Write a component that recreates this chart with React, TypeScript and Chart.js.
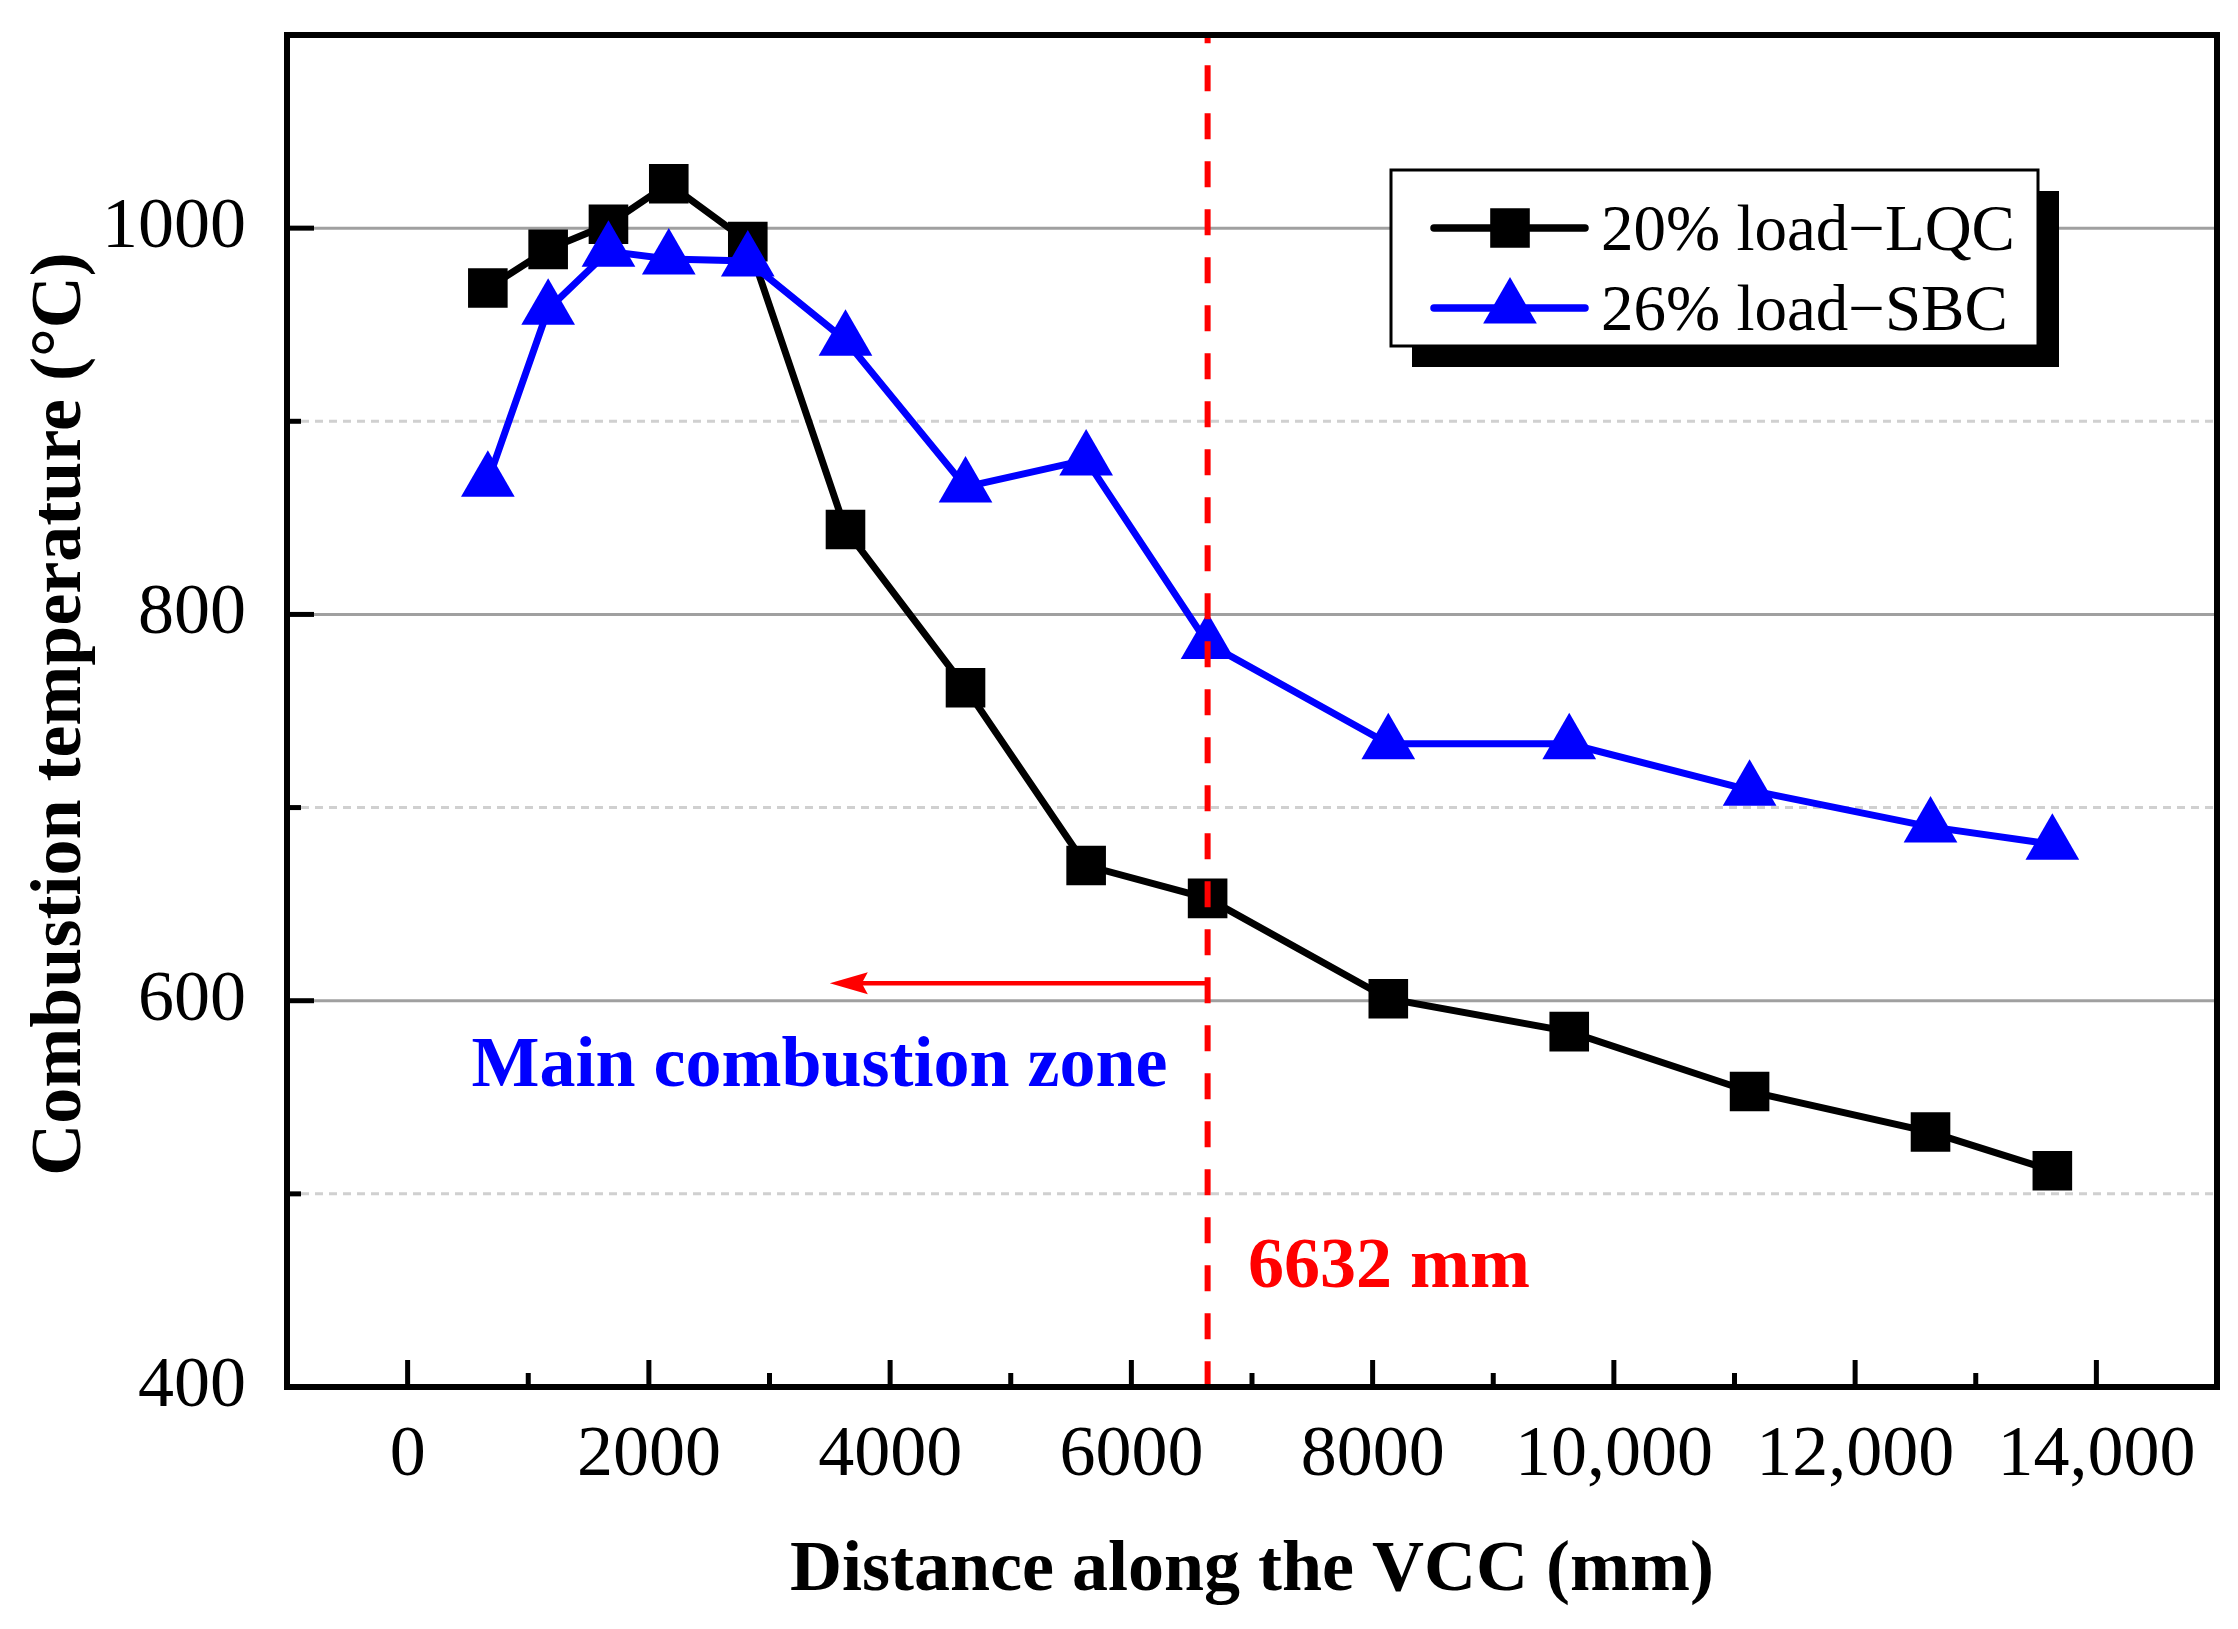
import React, { useEffect, useRef } from 'react';
import { Chart, registerables } from 'chart.js';

Chart.register(...registerables);

// distance along the VCC (mm) of each measuring point
const distance = [665, 1165, 1665, 2165, 2820, 3630, 4625, 5625, 6632, 8130, 9630, 11125, 12625, 13635];
// combustion temperature (°C)
const lqc20 = [969, 989, 1002, 1023, 993, 844, 762, 670, 653, 601, 584, 553, 532, 512];
const sbc26 = [869, 958, 988, 984, 983, 942, 866, 880, 785, 733, 733, 709, 690, 681];

const seriesLabels = ['20% load\u2212LQC', '26% load\u2212SBC'];

const xTicks = [0, 2000, 4000, 6000, 8000, 10000, 12000, 14000];
const xMinorTicks = [1000, 3000, 5000, 7000, 9000, 11000, 13000];
const yTicks = [400, 600, 800, 1000];
const yMinorTicks = [500, 700, 900];
const yGridMajor = [600, 800, 1000];

// main combustion zone boundary and its annotations
const boundaryX = 6632;
const arrowY = 609;
const arrowTipX = 3500;
const zoneText = 'Main combustion zone';
const zoneTextPos = [530, 556];
const boundaryText = '6632 mm';
const boundaryTextPos = [6967, 452];

const SERIF = '"Liberation Serif", "Times New Roman", serif';

const decorPlugin = {
  id: 'decor',
  beforeDatasetsDraw(chart: any) {
    const { ctx, chartArea: a, scales } = chart;
    const y = scales.y;
    ctx.save();
    ctx.lineWidth = 3;
    ctx.strokeStyle = '#d0d0d0';
    ctx.setLineDash([8, 6]);
    yMinorTicks.forEach((v) => {
      const py = y.getPixelForValue(v);
      ctx.beginPath();
      ctx.moveTo(a.left, py);
      ctx.lineTo(a.right, py);
      ctx.stroke();
    });
    ctx.setLineDash([]);
    ctx.strokeStyle = '#a0a0a0';
    yGridMajor.forEach((v) => {
      const py = y.getPixelForValue(v);
      ctx.beginPath();
      ctx.moveTo(a.left, py);
      ctx.lineTo(a.right, py);
      ctx.stroke();
    });
    ctx.restore();
  },
  afterDatasetsDraw(chart: any) {
    const { ctx, chartArea: a, scales } = chart;
    const x = scales.x;
    const y = scales.y;
    ctx.save();

    // red dashed boundary line
    const bx = x.getPixelForValue(boundaryX);
    const ay = y.getPixelForValue(arrowY);
    const period = 48;
    const d = (ay - 6 - a.top) % period;
    ctx.strokeStyle = '#ff0000';
    ctx.lineWidth = 6;
    ctx.setLineDash([26, 22]);
    ctx.lineDashOffset = (period - d) % period;
    ctx.beginPath();
    ctx.moveTo(bx, a.top);
    ctx.lineTo(bx, a.bottom);
    ctx.stroke();
    ctx.setLineDash([]);
    ctx.lineDashOffset = 0;

    // arrow to the left
    const tx = x.getPixelForValue(arrowTipX);
    ctx.lineWidth = 4.5;
    ctx.beginPath();
    ctx.moveTo(bx, ay);
    ctx.lineTo(tx + 30, ay);
    ctx.stroke();
    ctx.fillStyle = '#ff0000';
    ctx.beginPath();
    ctx.moveTo(tx, ay);
    ctx.lineTo(tx + 38, ay - 11);
    ctx.lineTo(tx + 32, ay);
    ctx.lineTo(tx + 38, ay + 11);
    ctx.closePath();
    ctx.fill();

    // annotation texts
    ctx.font = `bold 72px ${SERIF}`;
    ctx.textAlign = 'left';
    ctx.textBaseline = 'alphabetic';
    ctx.fillStyle = '#0000ff';
    ctx.fillText(zoneText, x.getPixelForValue(zoneTextPos[0]), y.getPixelForValue(zoneTextPos[1]));
    ctx.fillStyle = '#ff0000';
    ctx.fillText(boundaryText, x.getPixelForValue(boundaryTextPos[0]), y.getPixelForValue(boundaryTextPos[1]));

    // frame
    ctx.strokeStyle = '#000';
    ctx.lineWidth = 6;
    ctx.strokeRect(a.left, a.top, a.right - a.left, a.bottom - a.top);

    // ticks (inside)
    ctx.lineWidth = 5;
    xTicks.forEach((v) => {
      const px = x.getPixelForValue(v);
      ctx.beginPath();
      ctx.moveTo(px, a.bottom);
      ctx.lineTo(px, a.bottom - 27);
      ctx.stroke();
    });
    xMinorTicks.forEach((v) => {
      const px = x.getPixelForValue(v);
      ctx.beginPath();
      ctx.moveTo(px, a.bottom);
      ctx.lineTo(px, a.bottom - 14);
      ctx.stroke();
    });
    yTicks.forEach((v) => {
      const py = y.getPixelForValue(v);
      ctx.beginPath();
      ctx.moveTo(a.left, py);
      ctx.lineTo(a.left + 27, py);
      ctx.stroke();
    });
    yMinorTicks.forEach((v) => {
      const py = y.getPixelForValue(v);
      ctx.beginPath();
      ctx.moveTo(a.left, py);
      ctx.lineTo(a.left + 14, py);
      ctx.stroke();
    });

    // axis titles
    ctx.fillStyle = '#000';
    ctx.font = `bold 72px ${SERIF}`;
    ctx.textAlign = 'center';
    ctx.fillText('Distance along the VCC (mm)', (a.left + a.right) / 2, a.bottom + 203);
    ctx.save();
    ctx.translate(a.left - 207, (a.top + a.bottom) / 2 + 3);
    ctx.rotate(-Math.PI / 2);
    ctx.fillText('Combustion temperature (\u00B0C)', 0, 0);
    ctx.restore();

    // legend with drop shadow
    const lx = a.left + 1104;
    const ly = a.top + 135;
    const lw = 647;
    const lh = 176;
    ctx.fillStyle = '#000';
    ctx.fillRect(lx + 21, ly + 21, lw, lh);
    ctx.fillStyle = '#fff';
    ctx.fillRect(lx, ly, lw, lh);
    ctx.lineWidth = 3;
    ctx.strokeStyle = '#000';
    ctx.strokeRect(lx, ly, lw, lh);

    chart.data.datasets.forEach((ds: any, i: number) => {
      const ry = ly + 58 + i * 80;
      ctx.strokeStyle = ds.borderColor;
      ctx.lineWidth = 7.5;
      ctx.lineCap = 'round';
      ctx.beginPath();
      ctx.moveTo(lx + 43, ry);
      ctx.lineTo(lx + 194, ry);
      ctx.stroke();
      ctx.lineCap = 'butt';
      ctx.fillStyle = ds.pointBackgroundColor;
      const mx = lx + 119;
      const r = ds.pointRadius;
      ctx.beginPath();
      if (ds.pointStyle === 'rect') {
        const s = Math.SQRT1_2 * r;
        ctx.rect(mx - s, ry - s, 2 * s, 2 * s);
      } else {
        ctx.moveTo(mx, ry - r);
        ctx.lineTo(mx + 0.866 * r, ry + 0.5 * r);
        ctx.lineTo(mx - 0.866 * r, ry + 0.5 * r);
        ctx.closePath();
      }
      ctx.fill();
      ctx.fillStyle = '#000';
      ctx.font = `65px ${SERIF}`;
      ctx.textAlign = 'left';
      ctx.fillText(ds.label, lx + 210, ry + 22);
    });

    ctx.restore();
  },
};

const App: React.FC = () => {
  const canvasRef = useRef<HTMLCanvasElement | null>(null);
  const chartRef = useRef<Chart | null>(null);

  useEffect(() => {
    if (!canvasRef.current) return;
    if (chartRef.current) chartRef.current.destroy();

    const ctx = canvasRef.current.getContext('2d');
    if (!ctx) return;

    chartRef.current = new Chart(ctx, {
      type: 'line',
      data: {
        datasets: [
          {
            label: seriesLabels[0],
            data: distance.map((d, i) => ({ x: d, y: lqc20[i] })),
            borderColor: '#000000',
            backgroundColor: '#000000',
            pointBackgroundColor: '#000000',
            borderWidth: 7,
            pointStyle: 'rect',
            pointRadius: 28,
            pointBorderWidth: 0,
            tension: 0,
            order: 2,
          },
          {
            label: seriesLabels[1],
            data: distance.map((d, i) => ({ x: d, y: sbc26[i] })),
            borderColor: '#0000ff',
            backgroundColor: '#0000ff',
            pointBackgroundColor: '#0000ff',
            borderWidth: 7,
            pointStyle: 'triangle',
            pointRadius: 31,
            pointBorderWidth: 0,
            tension: 0,
            order: 1,
          },
        ],
      },
      options: {
        responsive: false,
        animation: false,
        devicePixelRatio: 1,
        layout: { autoPadding: false, padding: { top: 35, right: 21, left: 0, bottom: 0 } },
        plugins: {
          legend: { display: false },
          tooltip: { enabled: false },
        },
        scales: {
          x: {
            type: 'linear',
            min: -1000,
            max: 15000,
            grid: { display: false },
            border: { display: false },
            afterBuildTicks: (scale: any) => {
              scale.ticks = xTicks.map((v) => ({ value: v }));
            },
            afterFit: (scale: any) => {
              scale.height = 242;
              scale.paddingLeft = 0;
              scale.paddingRight = 0;
            },
            ticks: {
              autoSkip: false,
              maxRotation: 0,
              padding: 18,
              color: '#000',
              font: { family: SERIF, size: 72 },
              callback: (v: any) => (Number(v) >= 10000 ? Number(v).toLocaleString('en-US') : String(v)),
            },
          },
          y: {
            type: 'linear',
            min: 400,
            max: 1100,
            grid: { display: false },
            border: { display: false },
            afterBuildTicks: (scale: any) => {
              scale.ticks = yTicks.map((v) => ({ value: v }));
            },
            afterFit: (scale: any) => {
              scale.width = 287;
              scale.paddingTop = 0;
              scale.paddingBottom = 0;
            },
            ticks: {
              padding: 33,
              color: '#000',
              font: { family: SERIF, size: 72 },
              callback: (v: any) => String(v),
            },
          },
        },
      },
      plugins: [decorPlugin],
    } as any);

    return () => {
      if (chartRef.current) {
        chartRef.current.destroy();
        chartRef.current = null;
      }
    };
  }, []);

  return (
    <div style={{ position: 'fixed', left: 0, top: 0, width: 2238, height: 1629, background: '#fff' }}>
      <canvas ref={canvasRef} width={2238} height={1629} style={{ display: 'block', width: 2238, height: 1629 }} />
    </div>
  );
};

export default App;
